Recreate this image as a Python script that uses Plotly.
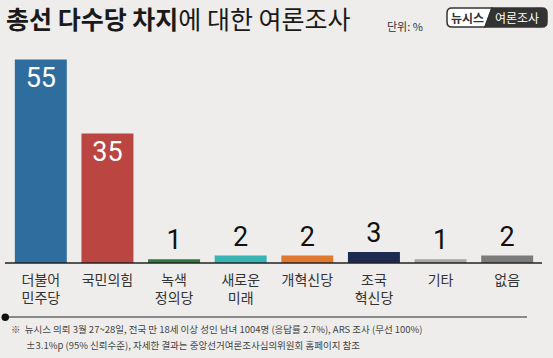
import plotly.graph_objects as go

categories = ["더불어<br>민주당", "국민의힘", "녹색<br>정의당", "새로운<br>미래", "개혁신당", "조국<br>혁신당", "기타", "없음"]
values = [55, 35, 1, 2, 2, 3, 1, 2]
bar_colors = ["#2f6d9f", "#bb4541", "#2f7a3d", "#38b4b4", "#e0782f", "#1d2a52", "#a6a6a6", "#7b7b7b"]

title_bold = "총선 다수당 차지"
title_rest = "에 대한 여론조사"
unit_text = "단위: %"
badge_left = "뉴시스"
badge_right = "여론조사"
footnote_lines = [
    "※  뉴시스 의뢰 3월 27~28일, 전국 만 18세 이상 성인 남녀 1004명 (응답률 2.7%), ARS 조사 (무선 100%)",
    "±3.1%p (95% 신뢰수준), 자세한 결과는 중앙선거여론조사심의위원회 홈페이지 참조",
]

W, H = 553, 358
BG = "#eeedeb"
KR = "Noto Sans CJK KR"
NUM = "Roboto, Liberation Sans, sans-serif"

def px(x):
    return x / W

def py(y):
    return 1 - y / H

inside = [v >= 10 for v in values]
fig = go.Figure(go.Bar(
    x=list(range(len(categories))),
    y=values,
    marker=dict(color=bar_colors, line=dict(width=0)),
    text=[str(v) for v in values],
    textposition=["inside" if i else "outside" for i in inside],
    insidetextanchor="end",
    textfont=dict(family=NUM, size=27, color=["#ffffff" if i else "#111111" for i in inside]),
    cliponaxis=False,
    width=0.78,
    hoverinfo="skip",
))

fig.update_layout(
    width=W, height=H,
    margin=dict(l=0, r=0, t=0, b=0),
    paper_bgcolor=BG, plot_bgcolor=BG,
    showlegend=False,
    xaxis=dict(
        domain=[px(7.5), px(540.5)],
        range=[-0.5, len(categories) - 0.5],
        tickmode="array",
        tickvals=list(range(len(categories))),
        ticktext=categories,
        tickfont=dict(family=KR, size=14, color="#333333"),
        ticklabelstandoff=7,
        showgrid=False, zeroline=False, showline=False, ticks="",
    ),
    yaxis=dict(
        domain=[py(263), py(52)],
        range=[0, 57],
        visible=False,
    ),
)

# baseline
fig.add_shape(type="line", xref="paper", yref="paper",
              x0=px(5), x1=px(542), y0=py(263), y1=py(263),
              line=dict(color="#222222", width=1.5))

# separator with dot
fig.add_shape(type="line", xref="paper", yref="paper",
              x0=px(6), x1=px(527), y0=py(317), y1=py(317),
              line=dict(color="#8a8a8a", width=2))
fig.add_shape(type="circle", xref="paper", yref="paper",
              x0=px(1.5), x1=px(9), y0=py(313.5), y1=py(321),
              fillcolor="#111111", line=dict(width=0))

# title
fig.add_annotation(xref="paper", yref="paper", x=px(4), y=py(18),
                   xanchor="left", yanchor="middle", showarrow=False,
                   text="<b>" + title_bold + "</b>" + title_rest,
                   font=dict(family=KR, size=25, color="#1a1a1a"))
fig.add_annotation(xref="paper", yref="paper", x=px(385), y=py(26),
                   xanchor="left", yanchor="middle", showarrow=False,
                   text=unit_text,
                   font=dict(family=KR, size=11, color="#333333"))

# badge
x0, x1, y0, y1, r = 447, 547, 8, 27, 5
split_top, split_bot = 492, 485
left_path = (f"M {split_top},{y0} L {x0 + r},{y0} Q {x0},{y0} {x0},{y0 + r} "
             f"L {x0},{y1 - r} Q {x0},{y1} {x0 + r},{y1} L {split_bot},{y1} Z")
right_path = (f"M {split_top},{y0} L {x1 - r},{y0} Q {x1},{y0} {x1},{y0 + r} "
              f"L {x1},{y1 - r} Q {x1},{y1} {x1 - r},{y1} L {split_bot},{y1} Z")

def to_paper_path(p):
    out = []
    for t in p.split():
        if "," in t:
            a, b = t.split(",")
            out.append(f"{px(float(a)):.5f},{py(float(b)):.5f}")
        else:
            out.append(t)
    return " ".join(out)

fig.add_shape(type="path", xref="paper", yref="paper", path=to_paper_path(left_path),
              fillcolor="#ffffff", line=dict(color="#333333", width=1.5))
fig.add_shape(type="path", xref="paper", yref="paper", path=to_paper_path(right_path),
              fillcolor="#333333", line=dict(color="#333333", width=1.5))
fig.add_annotation(xref="paper", yref="paper", x=px(467), y=py(17.5),
                   xanchor="center", yanchor="middle", showarrow=False,
                   text="<b>" + badge_left + "</b>",
                   font=dict(family=KR, size=12, color="#333333"))
fig.add_annotation(xref="paper", yref="paper", x=px(517), y=py(17.5),
                   xanchor="center", yanchor="middle", showarrow=False,
                   text=badge_right,
                   font=dict(family=KR, size=12, color="#ffffff"))

# footnotes
fig.add_annotation(xref="paper", yref="paper", x=px(9), y=py(329),
                   xanchor="left", yanchor="middle", showarrow=False,
                   text=footnote_lines[0],
                   font=dict(family=KR, size=9.5, color="#444444"))
fig.add_annotation(xref="paper", yref="paper", x=px(24), y=py(345),
                   xanchor="left", yanchor="middle", showarrow=False,
                   text=footnote_lines[1],
                   font=dict(family=KR, size=9.5, color="#444444"))

fig.write_html(
    "out.html",
    config={"displayModeBar": False, "staticPlot": True},
    post_script="document.body.style.margin='0';document.body.style.overflow='hidden';",
)
